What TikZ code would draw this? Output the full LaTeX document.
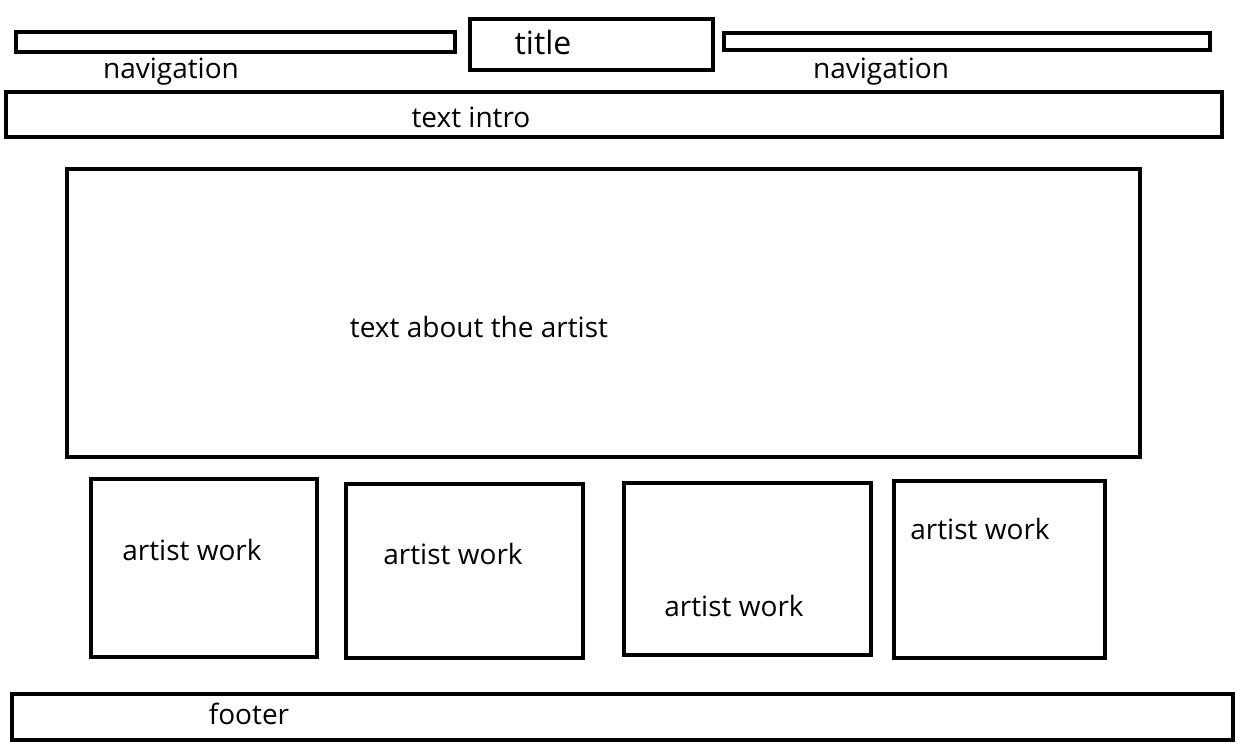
\documentclass[tikz,border=0pt]{standalone}
\usepackage{fontspec}
\setmainfont{Open Sans}
\begin{document}
\begin{tikzpicture}[x=1pt,y=-1pt,
  box/.style={draw=black,line width=4pt},
  lbl/.style={font=\fontsize{28}{31}\selectfont,inner sep=0pt}]
\useasboundingbox (0,0) rectangle (1242,746);
\fill[white] (0,0) rectangle (1242,746);
\draw[box] (16,32) rectangle (455,52);
\draw[box] (470,19) rectangle (713,70);
\draw[box] (724,33) rectangle (1210,50);
\draw[box] (6,92) rectangle (1222,137);
\draw[box] (67,169) rectangle (1140,457);
\draw[box] (91,479) rectangle (317,657);
\draw[box] (346,484) rectangle (583,658);
\draw[box] (624,483) rectangle (871,655);
\draw[box] (894,481) rectangle (1105,658);
\draw[box] (12,694) rectangle (1233,740);
\node[lbl] (navl) at (171,72) {navigation};
\node[lbl,font=\fontsize{32}{35}\selectfont] (title) at (543,43) {title};
\node[lbl] (navr) at (881,72) {navigation};
\node[lbl] (intro) at (471,117) {text intro};
\node[lbl] (about) at (479,327) {text about the artist};
\node[lbl] (w1) at (192,550) {artist work};
\node[lbl] (w2) at (453,554) {artist work};
\node[lbl] (w3) at (734,606) {artist work};
\node[lbl] (w4) at (980,529) {artist work};
\node[lbl] (foot) at (249,714) {footer};
\end{tikzpicture}
\end{document}
